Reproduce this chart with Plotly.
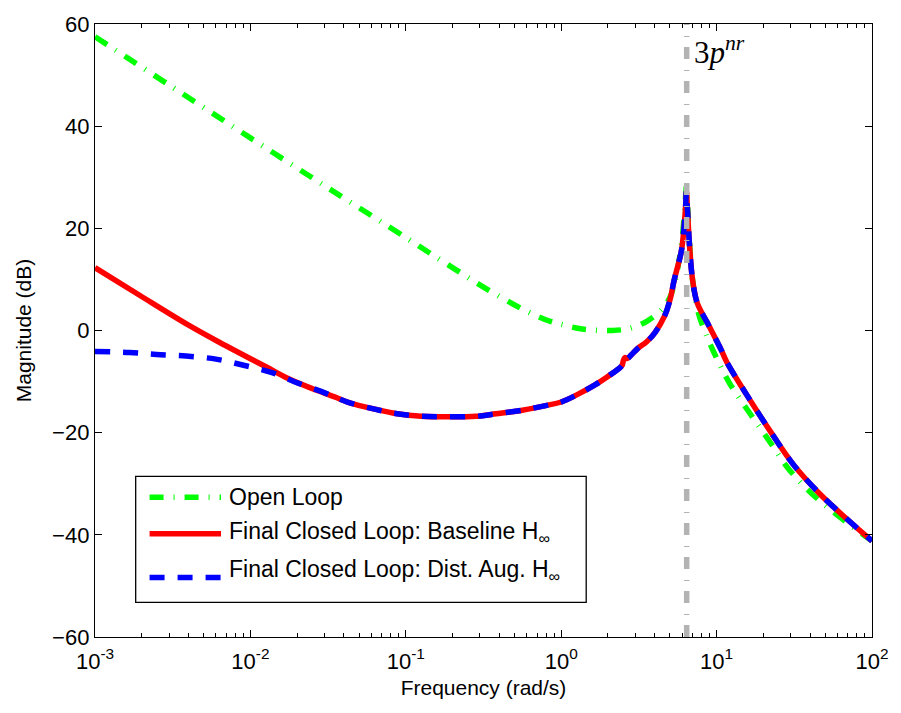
import plotly.graph_objects as go

# ---- Bode magnitude data (log10 of frequency in rad/s, magnitude in dB) ----
ol_logf = [-3.0, -2.5, -2.0, -1.5, -1.0, -0.75, -0.5, -0.25, -0.081, 0.0, 0.136,
           0.33, 0.45, 0.556, 0.646, 0.70, 0.735, 0.765, 0.785, 0.798, 0.806,
           0.814, 0.826, 0.845, 0.865, 0.888, 0.935, 0.983, 1.079, 1.207, 1.334,
           1.461, 1.608, 1.767, 1.9, 2.0]
ol_mag = [57.5, 47.6, 37.7, 27.9, 18.2, 13.3, 8.5, 4.2, 1.9, 1.2, 0.3,
          0.0, 0.5, 1.9, 4.1, 6.5, 10.0, 15.0, 20.0, 25.0, 28.3,
          24.0, 17.0, 10.0, 6.0, 2.9, -1.0, -4.3, -10.1, -15.9, -21.4,
          -27.0, -31.8, -35.9, -39.0, -41.2]

base_logf = [-3.0, -2.713, -2.395, -2.2, -2.076, -1.9, -1.757, -1.6, -1.458, -1.375,
             -1.2, -1.056, -0.9, -0.737, -0.55, -0.419, -0.25, -0.1, 0.0, 0.1,
             0.22, 0.3, 0.39, 0.40, 0.41, 0.425, 0.45, 0.493, 0.55, 0.601,
             0.665, 0.70, 0.728, 0.773, 0.79, 0.80, 0.806, 0.812, 0.825, 0.845,
             0.875, 0.939, 1.028, 1.066, 1.194, 1.347, 1.493, 1.665, 1.831, 2.0]
base_mag = [12.3, 6.9, 1.0, -2.3, -4.3, -7.1, -9.4, -11.4, -13.0, -14.0,
            -15.4, -16.3, -16.8, -16.9, -16.8, -16.3, -15.6, -14.7, -14.0, -12.6,
            -10.6, -9.0, -6.9, -5.9, -5.3, -5.5, -4.8, -3.5, -2.2, -0.5,
            2.8, 6.0, 10.0, 15.5, 20.0, 24.0, 27.3, 24.0, 17.0, 10.0,
            5.4, 1.6, -3.7, -6.2, -12.6, -19.8, -26.2, -32.0, -36.7, -41.2]

aug_logf = [-3.0, -2.777, -2.605, -2.414, -2.222, -2.044, -1.866, -1.693, -1.521, -1.458,
            -1.375, -1.2, -1.056, -0.9, -0.737, -0.55, -0.419, -0.25, -0.1, 0.0,
            0.1, 0.22, 0.3, 0.39, 0.40, 0.41, 0.425, 0.45, 0.493, 0.55,
            0.601, 0.665, 0.70, 0.728, 0.773, 0.79, 0.80, 0.806, 0.812, 0.825,
            0.845, 0.875, 0.939, 1.028, 1.066, 1.194, 1.347, 1.493, 1.665, 1.831, 2.0]
aug_mag = [-4.1, -4.3, -4.7, -5.0, -5.6, -6.8, -8.2, -10.3, -12.2, -13.0,
           -14.0, -15.4, -16.3, -16.8, -16.9, -16.8, -16.3, -15.6, -14.7, -14.0,
           -12.6, -10.6, -9.0, -6.9, -5.9, -5.3, -5.5, -4.8, -3.5, -2.2,
           -0.5, 2.8, 6.0, 10.0, 15.5, 20.0, 24.0, 27.3, 24.0, 17.0,
           10.0, 5.4, 1.6, -3.7, -6.2, -12.6, -19.8, -26.2, -32.0, -36.7, -41.2]

# 3 x rotor frequency marker (rad/s)
marker_freq = 6.42

x_ticks = [1e-3, 1e-2, 1e-1, 1e0, 1e1, 1e2]
x_ticktext = ["10<sup>-3</sup>", "10<sup>-2</sup>", "10<sup>-1</sup>",
              "10<sup>0</sup>", "10<sup>1</sup>", "10<sup>2</sup>"]
y_ticks = [-60, -40, -20, 0, 20, 40, 60]

legend_names = ["Open Loop",
                "Final Closed Loop: Baseline H<sub>∞</sub>",
                "Final Closed Loop: Dist. Aug. H<sub>∞</sub>"]

GREEN = "#00ff00"
RED = "#ff0000"
BLUE = "#0000ff"
GREY = "#b3b3b3"
OL_DASH = "14px,10px,1px,10px"
AUG_DASH = "15px,13px"
LW = 5.5
FONT = "Liberation Sans, Arial, Helvetica"
SMOOTH = 1.0

def to_freq(logs):
    return [10 ** v for v in logs]

fig = go.Figure()
fig.add_trace(go.Scatter(x=to_freq(ol_logf), y=ol_mag, mode="lines",
                         line=dict(color=GREEN, width=LW, dash=OL_DASH,
                                   shape="spline", smoothing=SMOOTH),
                         name=legend_names[0], showlegend=False))
fig.add_trace(go.Scatter(x=to_freq(base_logf), y=base_mag, mode="lines",
                         line=dict(color=RED, width=LW, shape="spline", smoothing=SMOOTH),
                         name=legend_names[1], showlegend=False))
fig.add_trace(go.Scatter(x=to_freq(aug_logf), y=aug_mag, mode="lines",
                         line=dict(color=BLUE, width=LW, dash=AUG_DASH,
                                   shape="spline", smoothing=SMOOTH),
                         name=legend_names[2], showlegend=False))
# vertical marker line at 3p^nr
fig.add_trace(go.Scatter(x=[marker_freq, marker_freq], y=[-60, 60], mode="lines",
                         line=dict(color=GREY, width=5.5, dash="12px,10px,1px,11px"),
                         showlegend=False, hoverinfo="skip"))

W, H = 901, 713
L, R, T, B = 95, 23, 19, 76
pw, ph = W - L - R, H - T - B

def px(x):
    return (x - L) / pw

def py(y):
    return (H - B - y) / ph

shapes = [dict(type="rect", xref="paper", yref="paper",
               x0=px(136), x1=px(590), y0=py(602), y1=py(475),
               line=dict(color="black", width=1.3), fillcolor="white", layer="above")]
sample_rows = [(496, GREEN, OL_DASH), (533, RED, "solid"), (577, BLUE, AUG_DASH)]
for yy, col, dsh in sample_rows:
    shapes.append(dict(type="line", xref="paper", yref="paper",
                       x0=px(150), x1=px(222), y0=py(yy), y1=py(yy),
                       line=dict(color=col, width=LW, dash=dsh), layer="above"))

annotations = []
text_rows = [(496, legend_names[0]), (532, legend_names[1]), (570, legend_names[2])]
for yy, txt in text_rows:
    annotations.append(dict(xref="paper", yref="paper", x=px(228), y=py(yy),
                            xanchor="left", yanchor="middle", text=txt, showarrow=False,
                            font=dict(family=FONT, size=23, color="black")))
annotations.append(dict(xref="paper", yref="paper", x=px(697), y=py(46),
                        xanchor="left", yanchor="middle",
                        text="3<i>p</i><sup><i>nr</i></sup>", showarrow=False,
                        font=dict(family="Liberation Serif, DejaVu Serif", size=31, color="black")))

fig.update_layout(
    width=W, height=H,
    margin=dict(l=L, r=R, t=T, b=B),
    paper_bgcolor="white", plot_bgcolor="white",
    font=dict(family=FONT, size=22, color="black"),
    shapes=shapes, annotations=annotations,
    showlegend=False,
)
fig.update_xaxes(type="log", range=[-3, 2], tickmode="array", tickvals=x_ticks,
                 ticktext=x_ticktext, ticks="inside", ticklen=7, tickwidth=1,
                 tickcolor="black", showline=True, linecolor="black", linewidth=1.3,
                 mirror="allticks", showgrid=False, zeroline=False,
                 tickfont=dict(size=22), ticklabelstandoff=4,
                 minor=dict(ticks="inside", ticklen=4, tickcolor="black",
                            tickvals=[m * 10 ** e for e in range(-3, 2) for m in range(2, 10)],
                            showgrid=False),
                 title=dict(text="Frequency (rad/s)", font=dict(size=21), standoff=7))
fig.update_yaxes(range=[-60, 60], tickmode="array", tickvals=y_ticks,
                 ticks="inside", ticklen=7, tickwidth=1, tickcolor="black",
                 showline=True, linecolor="black", linewidth=1.3, mirror="allticks",
                 showgrid=False, zeroline=False, tickfont=dict(size=22),
                 title=dict(text="Magnitude (dB)", font=dict(size=21), standoff=14))

fig.write_html("out.html")
